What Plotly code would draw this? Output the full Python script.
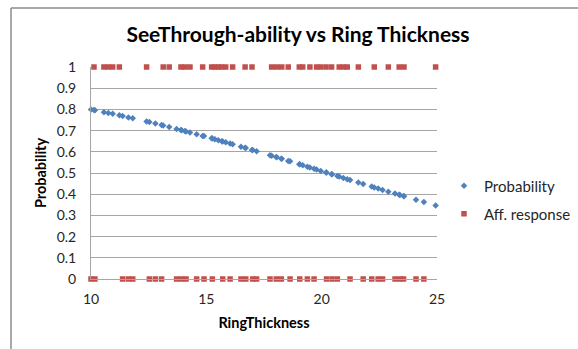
import plotly.graph_objects as go

# Ring thickness of each sample, its observed response (0/1) and fitted probability
thickness = [10.00, 10.13, 10.17, 10.56, 10.75, 10.94, 11.23, 11.37, 11.62, 11.81,
             12.41, 12.53, 12.79, 13.06, 13.13, 13.39, 13.71, 13.90, 13.93, 14.07,
             14.12, 14.29, 14.58, 14.84, 14.90, 15.23, 15.26, 15.37, 15.52, 15.67,
             15.71, 15.84, 16.03, 16.14, 16.50, 16.68, 16.71, 16.98, 17.01, 17.18,
             17.76, 17.83, 18.05, 18.03, 18.27, 18.25, 18.55, 18.63, 19.03, 19.05,
             19.18, 19.38, 19.49, 19.67, 19.78, 19.96, 20.19, 20.21, 20.43, 20.45,
             20.68, 20.76, 20.94, 21.11, 21.23, 21.59, 21.80, 22.17, 22.28, 22.45,
             22.64, 22.89, 23.18, 23.36, 23.39, 23.57, 23.55, 24.09, 24.43, 24.94]
response = [0, 1, 0, 1, 1, 1, 1, 0, 0, 0,
            1, 0, 0, 0, 1, 1, 0, 1, 0, 1,
            0, 1, 0, 1, 0, 1, 0, 1, 1, 1,
            0, 1, 0, 1, 0, 1, 0, 1, 0, 0,
            0, 1, 1, 0, 1, 0, 1, 0, 1, 0,
            1, 0, 1, 0, 1, 1, 1, 0, 1, 0,
            0, 1, 1, 1, 0, 1, 0, 0, 1, 0,
            0, 1, 0, 1, 0, 1, 0, 0, 0, 1]
probability = [0.800, 0.797, 0.796, 0.787, 0.783, 0.779, 0.772, 0.769, 0.762, 0.758,
               0.743, 0.740, 0.733, 0.726, 0.724, 0.717, 0.708, 0.703, 0.702, 0.698,
               0.696, 0.691, 0.683, 0.675, 0.674, 0.664, 0.663, 0.659, 0.655, 0.650,
               0.649, 0.645, 0.639, 0.636, 0.624, 0.619, 0.618, 0.609, 0.608, 0.603,
               0.584, 0.581, 0.574, 0.575, 0.567, 0.567, 0.557, 0.555, 0.541, 0.541,
               0.536, 0.530, 0.526, 0.520, 0.516, 0.510, 0.502, 0.502, 0.494, 0.494,
               0.486, 0.483, 0.477, 0.471, 0.467, 0.455, 0.448, 0.436, 0.432, 0.427,
               0.420, 0.412, 0.403, 0.397, 0.396, 0.390, 0.391, 0.374, 0.363, 0.347]

y_ticks = [0, 0.1, 0.2, 0.3, 0.4, 0.5, 0.6, 0.7, 0.8, 0.9, 1]
y_tick_text = ["0", "0.1", "0.2", "0.3", "0.4", "0.5", "0.6", "0.7", "0.8", "0.9", "1"]
x_ticks = [10, 15, 20, 25]

FONT = "Lato"
TEXT = "#262626"
GRID = "#a6a6a6"
BLUE = "#4f81bd"
RED = "#c0504d"

fig = go.Figure()
fig.add_trace(go.Scatter(
    x=thickness, y=probability, mode="markers", name="Probability",
    marker=dict(symbol="diamond", size=5, color=BLUE),
    cliponaxis=False, legend="legend",
))
fig.add_trace(go.Scatter(
    x=thickness, y=response, mode="markers", name="Aff. response",
    marker=dict(symbol="square", size=5.5, color=RED),
    cliponaxis=False, legend="legend2",
))

W, H = 578, 349
L, R, T, B = 91, 437, 67, 279  # plot-area edges in pixels
pw, ph = R - L, B - T

def px(xpix):
    return (xpix - L) / pw

def py(ypix):
    return (B - ypix) / ph

fig.update_layout(
    width=W, height=H,
    margin=dict(l=L, r=W - R, t=T, b=H - B, pad=0, autoexpand=False),
    paper_bgcolor="white", plot_bgcolor="white",
    font=dict(family=FONT, size=14, color=TEXT),
    title=dict(text="SeeThrough-ability vs Ring Thickness",
               font=dict(family=FONT, size=21, weight="bold", color="#000000"),
               x=298 / W, xanchor="center", y=1 - 35 / H, yanchor="middle"),
    xaxis=dict(range=[10, 25], tickvals=x_ticks, showgrid=False, zeroline=False,
               showline=True, linecolor=GRID, linewidth=1, ticks="",
               ticklabelstandoff=7, tickfont=dict(size=14),
               title=dict(text="RingThickness", standoff=12,
                          font=dict(family=FONT, size=14.5, weight="bold", color="#000000"))),
    yaxis=dict(range=[0, 1], tickvals=y_ticks, ticktext=y_tick_text, showgrid=True,
               gridcolor=GRID, gridwidth=1, zeroline=False,
               showline=True, linecolor=GRID, linewidth=1, ticks="",
               ticklabelstandoff=11, tickfont=dict(size=14),
               title=dict(text="Probability", standoff=6,
                          font=dict(family=FONT, size=14.5, weight="bold", color="#000000"))),
    legend=dict(x=px(444), y=py(186), xanchor="left", yanchor="middle",
                bgcolor="rgba(0,0,0,0)", font=dict(size=15, color=TEXT)),
    legend2=dict(x=px(444), y=py(214), xanchor="left", yanchor="middle",
                 bgcolor="rgba(0,0,0,0)", font=dict(size=15, color=TEXT)),
    showlegend=True,
)

# Chart frame (left and top edges)
frame = dict(type="line", xref="paper", yref="paper",
             line=dict(color="#8c8c8c", width=1.5), layer="above")
fig.add_shape(**frame, x0=px(11), x1=px(11), y0=py(H + 2), y1=py(8))
fig.add_shape(**frame, x0=px(11), x1=px(W + 2), y0=py(8), y1=py(8))

fig.write_html("out.html")
